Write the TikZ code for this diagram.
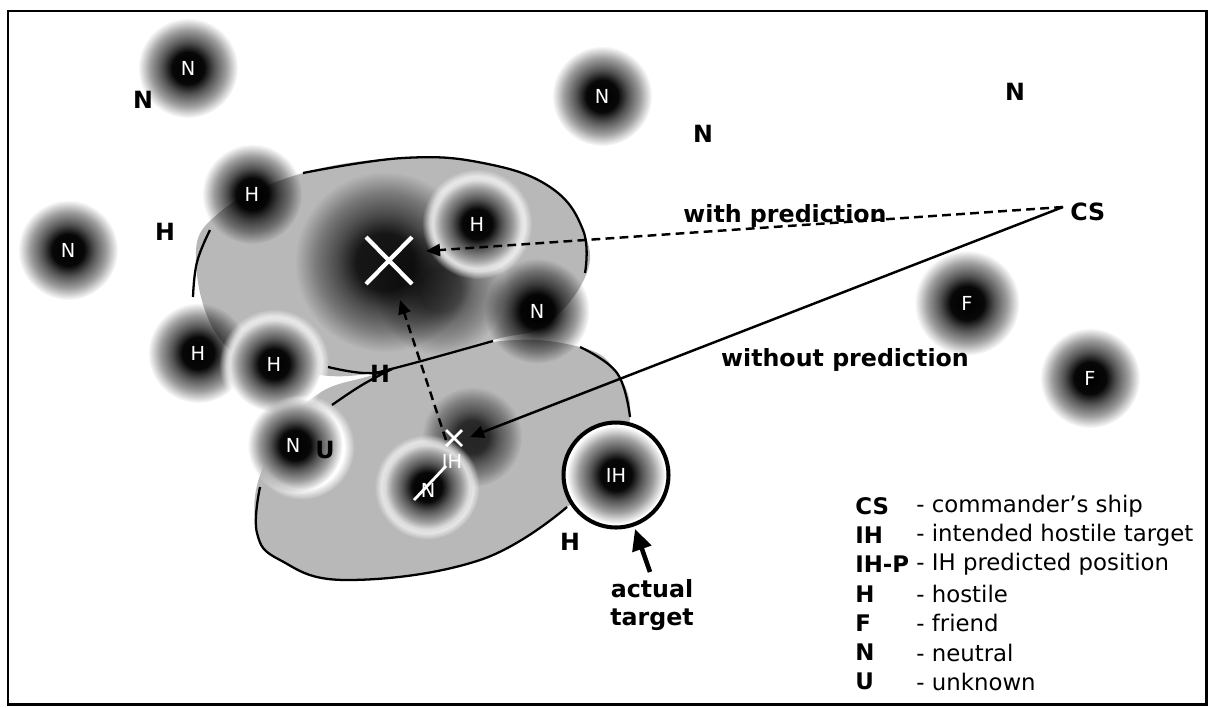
\documentclass[tikz,border=0pt]{standalone}
\usepackage{fontspec}
\setmainfont{DejaVu Sans}
\usetikzlibrary{fadings,arrows.meta}
\pgfdeclareradialshading{blobsh}{\pgfpointorigin}{color(0bp)=(pgftransparent!0); color(8bp)=(pgftransparent!3); color(13bp)=(pgftransparent!33); color(19bp)=(pgftransparent!62); color(25bp)=(pgftransparent!100); color(50bp)=(pgftransparent!100)}
\pgfdeclarefading{blobfade}{\pgfuseshading{blobsh}}
\pgfdeclareradialshading{halosh}{\pgfpointorigin}{color(0bp)=(pgftransparent!0); color(20bp)=(pgftransparent!0); color(25bp)=(pgftransparent!100); color(50bp)=(pgftransparent!100)}
\pgfdeclarefading{halofade}{\pgfuseshading{halosh}}
\tikzset{
  lbl/.style={font=\fontsize{13.5}{16}\selectfont\bfseries, text=black, inner sep=0pt},
  wl/.style={font=\fontsize{11}{13}\selectfont, text=white, inner sep=0pt},
  legkey/.style={font=\fontsize{13}{15}\selectfont\bfseries, anchor=west, inner sep=0pt},
  legtxt/.style={font=\fontsize{13}{15}\selectfont, anchor=west, inner sep=0pt},
  region/.style={fill=black!28},
  outline/.style={line width=1.3pt},
  blobfill/.style={fill=black, path fading=blobfade},
  halofill/.style={fill=white, path fading=halofade},
  arr/.style={-{Triangle[width=7pt,length=8pt]}},
  dsh/.style={line width=1.4pt, dash pattern=on 5pt off 3pt},
  xmark/.style={white, line width=2.4pt}
}
\begin{document}
\begin{tikzpicture}[x=0.02cm,y=-0.02cm]
\useasboundingbox (0,0) rectangle (1212,707);
\fill[white] (0,0) rectangle (1212,707);
\draw[line width=1.7pt] (8,11) rectangle (1206,704);

% regions
\fill[region] plot[smooth cycle, tension=0.7] coordinates {(196,262) (220,212) (303,173) (403,158) (483,163) (550,187) (583,230) (586,275) (545,325) (493,340) (380,372) (300,372) (225,345)};
\fill[region] plot[smooth cycle, tension=0.7] coordinates {(310,400) (380,373) (493,342) (580,347) (617,373) (630,417) (610,475) (567,507) (480,560) (347,580) (280,560) (257,533) (262,470)};
% darker areas
\fill[blobfill, fill opacity=0.9] (385,262) circle[radius=1.8cm];
\fill[blobfill, fill opacity=0.6] (440,290) circle[radius=1.3cm];
\fill[blobfill, fill opacity=0.8] (472,437) circle[radius=1.0cm];

% plain blobs
\fill[blobfill] (188,68) circle[radius=1.0cm];
\fill[blobfill] (602,96) circle[radius=1.0cm];
\fill[blobfill] (252,194) circle[radius=1.0cm];
\fill[blobfill] (68,250) circle[radius=1.0cm];
\fill[blobfill] (537,311) circle[radius=1.05cm];
\fill[blobfill] (198,353) circle[radius=1.0cm];
\fill[blobfill] (967,303) circle[radius=1.05cm];
\fill[blobfill] (1090,378) circle[radius=1.0cm];

% haloed blobs
\fill[halofill] (477,224) circle[radius=1.1cm];
\fill[blobfill] (477,224) circle[radius=0.95cm];
\fill[halofill] (274,364) circle[radius=1.1cm];
\fill[blobfill] (274,364) circle[radius=0.95cm];
\fill[halofill] (302,447) circle[radius=1.05cm];
\fill[blobfill] (295,445) circle[radius=0.95cm];
\fill[halofill] (427,487) circle[radius=1.05cm];
\fill[blobfill] (427,487) circle[radius=0.92cm];
\fill[white] (616,475) circle[radius=1.02cm];
\fill[blobfill] (616,475) circle[radius=0.98cm];

% region outlines
\draw[outline] plot[smooth, tension=0.7] coordinates {(303,173) (403,158) (483,163) (550,187) (583,230) (585,273)};
\draw[outline] plot[smooth, tension=0.7] coordinates {(210,230) (197,262) (193,297)};
\draw[outline] plot[smooth, tension=0.7] coordinates {(328,367) (365,373) (395,368) (493,341)};
\draw[outline] plot[smooth, tension=0.7] coordinates {(332,405) (362,385) (392,369)};
\draw[outline] plot[smooth, tension=0.7] coordinates {(580,347) (617,373) (630,417)};
\draw[outline] plot[smooth, tension=0.7] coordinates {(567,507) (480,560) (347,580) (280,560) (257,533) (260,487)};

% actual target circle
\node[circle, draw, line width=2.3pt, minimum size=2.1cm, inner sep=0pt] (ih2) at (616,475) {};
\node[wl] (ih2l) at (616,475) {IH};

% connectors
\coordinate (cs) at (1063,207);
\coordinate (ihp) at (426,251);
\coordinate (ih) at (470,437);
\coordinate (ihs) at (446,440);
\coordinate (ihpb) at (400,300);
\draw[dsh, arr] (cs) -- (ihp);
\draw[line width=1.4pt, arr] (cs) -- (ih);
\draw[dsh, arr] (ihs) -- (ihpb);

% X marks
\draw[xmark] (366,237) -- (412,284) (366,284) -- (412,237);
\draw[white, line width=1.6pt] (446,430) -- (462,446) (446,446) -- (462,430);
\draw[white, line width=1.6pt] (414,500) -- (446,466);

% white blob labels
\node[wl] (n1) at (188,68) {N};
\node[wl] (n2) at (602,96) {N};
\node[wl] (h1) at (252,194) {H};
\node[wl] (h2) at (477,224) {H};
\node[wl] (n3) at (68,250) {N};
\node[wl] (n4) at (537,311) {N};
\node[wl] (h3) at (198,353) {H};
\node[wl] (h4) at (274,364) {H};
\node[wl] (n5) at (293,445) {N};
\node[wl] (n6) at (428,490) {N};
\node[wl] (ihl) at (452,461) {IH};
\node[wl] (f1) at (967,303) {F};
\node[wl] (f2) at (1090,378) {F};

% black labels
\node[lbl] (bn1) at (143,100) {N};
\node[lbl] (bn2) at (703,134) {N};
\node[lbl] (bn3) at (1015,92) {N};
\node[lbl] (bh1) at (165,232) {H};
\node[lbl] (bh2) at (380,374) {H};
\node[lbl] (bu) at (325,450) {U};
\node[lbl] (bh3) at (570,542) {H};
\node[lbl, anchor=west] (csl) at (1070,212) {CS};
\node[lbl] (wp) at (785,216) {with prediction};
\node[lbl] (wop) at (845,360) {without prediction};
\node[lbl, align=center] (at) at (652,605) {actual\\[0pt]target};
\coordinate (att) at (650,572);
\coordinate (ath) at (635,529);
\draw[line width=2.6pt, -{Triangle[width=11pt,length=12pt]}] (att) -- (ath);

% legend
\foreach \k/\t [count=\i from 0] in {CS/commander's ship, IH/intended hostile target, IH-P/IH predicted position, H/hostile, F/friend, N/neutral, U/unknown}{
  \node[legkey] (k\i) at (855,{506+29.3*\i}) {\k};
  \node[legtxt] (t\i) at (916,{506+29.3*\i}) {- \t};
}
\end{tikzpicture}
\end{document}
